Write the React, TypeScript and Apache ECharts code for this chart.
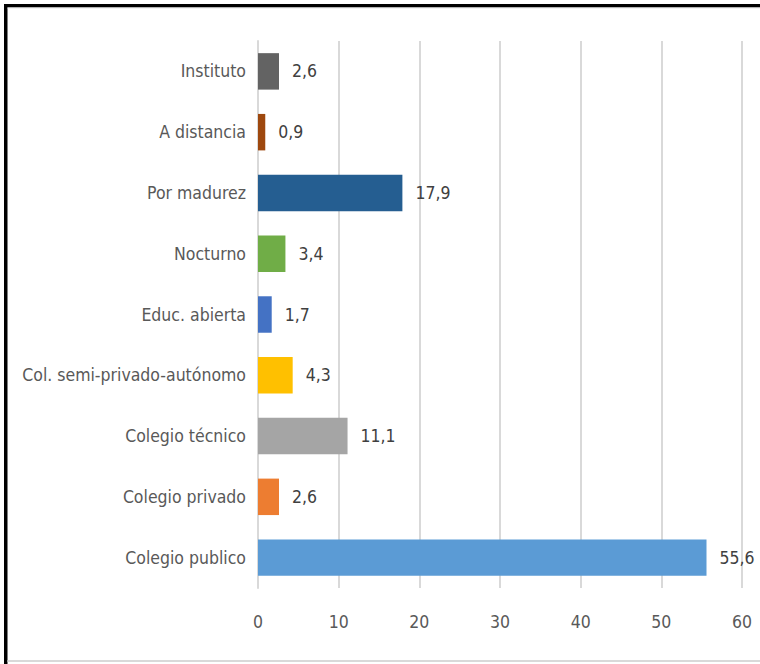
import React, { useEffect, useRef } from "react";
import * as echarts from "echarts";

const categories = [
  "Colegio publico",
  "Colegio privado",
  "Colegio técnico",
  "Col. semi-privado-autónomo",
  "Educ. abierta",
  "Nocturno",
  "Por madurez",
  "A distancia",
  "Instituto",
];
const values = [55.6, 2.6, 11.1, 4.3, 1.7, 3.4, 17.9, 0.9, 2.6];
const colors = [
  "#5B9BD5",
  "#ED7D31",
  "#A5A5A5",
  "#FFC000",
  "#4472C4",
  "#70AD47",
  "#255E91",
  "#9E480E",
  "#636363",
];

const FONT = "'DejaVu Sans Condensed', 'Liberation Sans Narrow', sans-serif";

export default function App() {
  const ref = useRef<HTMLDivElement>(null);
  useEffect(() => {
    if (!ref.current) return;
    const chart = echarts.init(ref.current, null, { renderer: "svg" });
    chart.setOption({
      animation: false,
      backgroundColor: "#ffffff",
      grid: {
        left: 258,
        right: 18,
        top: 41,
        bottom: 76,
        containLabel: false,
        outerBoundsMode: "none",
      },
      xAxis: {
        type: "value",
        min: 0,
        max: 60,
        interval: 10,
        axisLine: { show: false },
        axisTick: { show: false },
        splitLine: { show: true, lineStyle: { color: "#d9d9d9", width: 2 } },
        axisLabel: {
          color: "#595959",
          fontFamily: FONT,
          fontSize: 17.5,
          margin: 25,
        },
      },
      yAxis: {
        type: "category",
        data: categories,
        axisLine: { show: true, lineStyle: { color: "#d9d9d9", width: 2 } },
        axisTick: { show: false },
        axisLabel: {
          color: "#595959",
          fontFamily: FONT,
          fontSize: 17.5,
          margin: 12,
        },
      },
      series: [
        {
          type: "bar",
          data: values.map((v, i) => ({ value: v, itemStyle: { color: colors[i] } })),
          barWidth: "60%",
          label: {
            show: true,
            position: "right",
            distance: 13,
            color: "#404040",
            fontFamily: FONT,
            fontSize: 17.5,
            formatter: (p: any) => String(p.value).replace(".", ","),
          },
        },
      ],
      graphic: [
        { type: "rect", shape: { x: 4, y: 4, width: 3.5, height: 660 }, style: { fill: "#000" } },
        { type: "rect", shape: { x: 4, y: 4, width: 760, height: 3.5 }, style: { fill: "#000" } },
        { type: "rect", shape: { x: 7.5, y: 660, width: 760, height: 2 }, style: { fill: "#d9d9d9" } },
        { type: "rect", shape: { x: 7.5, y: 7.5, width: 760, height: 1 }, style: { fill: "#e6e6e6" } },
      ],
    });
    return () => chart.dispose();
  }, []);
  return (
    <div
      ref={ref}
      style={{ position: "fixed", left: 0, top: 0, width: 760, height: 664 }}
    />
  );
}
